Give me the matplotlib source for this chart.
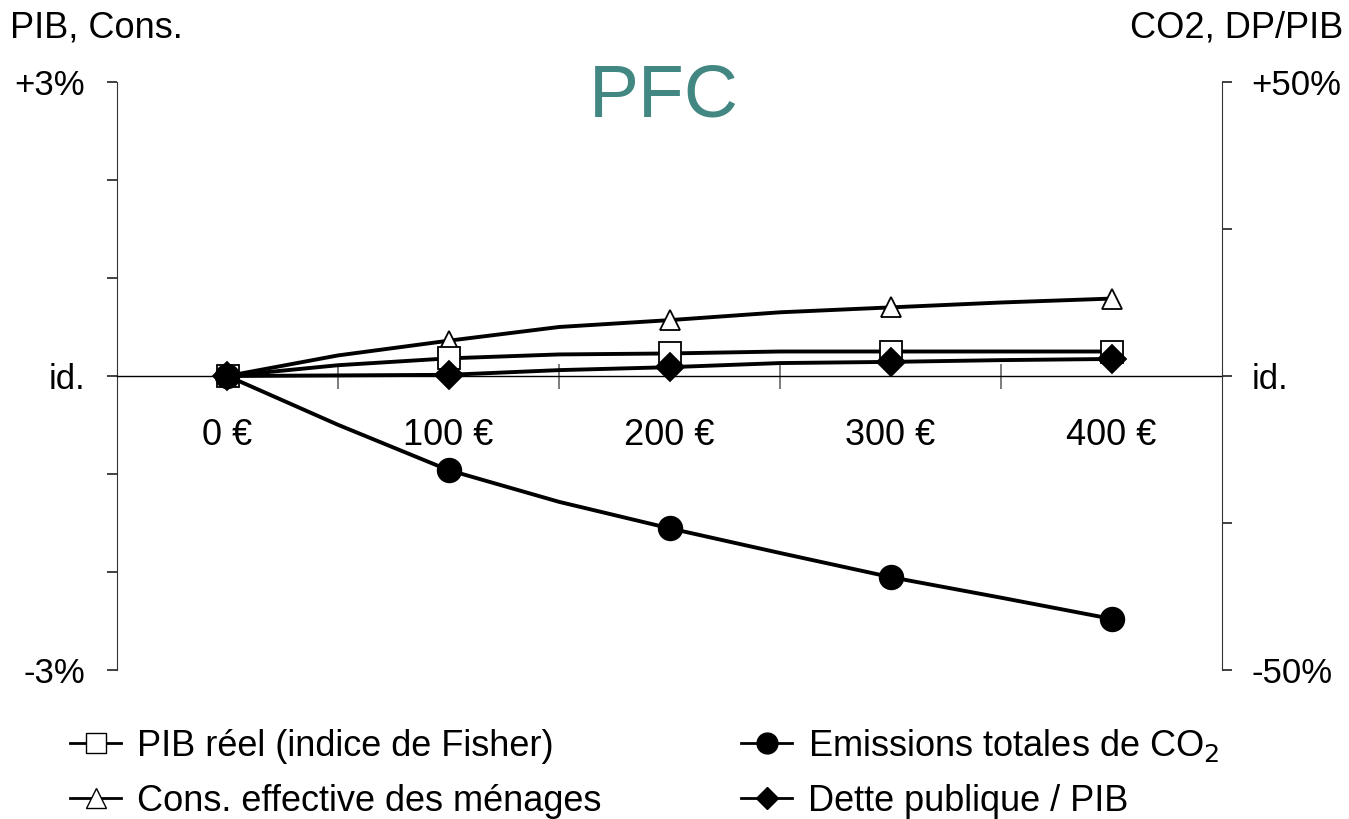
import numpy as np
import matplotlib.pyplot as plt
from matplotlib.lines import Line2D

plt.rcParams['font.family'] = ['Liberation Sans', 'DejaVu Sans']

# montant de la taxe (euros), avec points intermédiaires sans marqueur
taxe = [0, 50, 100, 150, 200, 250, 300, 350, 400]
taxe_marq = [0, 100, 200, 300, 400]

# axe de gauche (%)
pib = [0.0, 0.11, 0.18, 0.22, 0.23, 0.25, 0.25, 0.25, 0.25]
cons = [0.0, 0.21, 0.36, 0.50, 0.57, 0.65, 0.70, 0.75, 0.79]
# axe de droite (%)
co2 = [0.0, -8.3, -16.0, -21.4, -25.9, -30.1, -34.2, -37.7, -41.3]
dette = [0.0, 0.1, 0.2, 1.0, 1.5, 2.2, 2.4, 2.7, 2.9]

xlabels = ['0 €', '100 €', '200 €', '300 €', '400 €']
titre = 'PFC'

fig = plt.figure(figsize=(13.49, 8.19), dpi=100)
ax = fig.add_axes([117/1349, 1-670/819, (1222-117)/1349, 588/819])
ax2 = ax.twinx()

lw = 2.8
spine_col = '#333333'


def trace(axe, y, marker, ms, face):
    axe.plot(taxe, y, color='black', lw=lw, zorder=3)
    idx = [taxe.index(t) for t in taxe_marq]
    axe.plot(taxe_marq, [y[i] for i in idx], ls='none', marker=marker, ms=ms,
             mfc=face, mec='black', mew=1.3, zorder=4)


trace(ax, cons, '^', 15, 'white')
trace(ax, pib, 's', 16, 'white')
trace(ax2, dette, 'D', 14, 'black')
trace(ax2, co2, 'o', 17, 'black')

ax.set_xlim(-50, 450)
ax.set_ylim(-3, 3)
ax2.set_ylim(-50, 50)

for a in (ax, ax2):
    a.spines['top'].set_visible(False)
ax.spines['right'].set_visible(False)
ax2.spines['bottom'].set_visible(False)
ax2.spines['left'].set_visible(False)
ax.spines['left'].set_color(spine_col)
ax2.spines['right'].set_color(spine_col)

# axe horizontal au niveau 0
ax.spines['bottom'].set_position(('data', 0))
ax.spines['bottom'].set_color('black')
ax.spines['bottom'].set_linewidth(1.0)
ax.set_xticks(taxe_marq)
ax.set_xticklabels(xlabels, fontsize=26)
ax.set_xticks([50, 150, 250, 350], minor=True)
ax.tick_params(axis='x', which='major', length=0, pad=30)
ax.tick_params(axis='x', which='minor', direction='inout', length=18,
               color='#666666', width=1.2)

ax.set_yticks(np.arange(-3, 4, 1))
ax.set_yticklabels(['-3%', '', '', 'id.', '', '', '+3%'], fontsize=25)
ax.tick_params(axis='y', length=7, width=1.3, color=spine_col, pad=16)

ax2.set_yticks(np.arange(-50, 51, 25))
ax2.set_yticklabels(['-50%', '', 'id.', '', '+50%'], fontsize=25)
ax2.tick_params(axis='y', length=7, width=1.3, color=spine_col, pad=14)

ax.text(0.495, 0.974, titre, transform=ax.transAxes, ha='center', va='center',
        fontsize=54, color='#428782')
fig.text(10/1349, 1-28/819, 'PIB, Cons.', ha='left', va='center', fontsize=26)
fig.text(1343/1349, 1-28/819, 'CO2, DP/PIB', ha='right', va='center', fontsize=26)

handles = [
    Line2D([], [], color='black', lw=2, marker='s', ms=14, mfc='white', mec='black', mew=1),
    Line2D([], [], color='black', lw=2, marker='^', ms=14, mfc='white', mec='black', mew=1),
    Line2D([], [], color='black', lw=2, marker='o', ms=15, mfc='black', mec='black'),
    Line2D([], [], color='black', lw=2, marker='D', ms=11, mfc='black', mec='black'),
]
labels = ['PIB réel (indice de Fisher)', 'Cons. effective des ménages',
          r'Emissions totales de CO$_2$', 'Dette publique / PIB']
fig.legend(handles, labels, ncol=2, loc='center', bbox_to_anchor=(0.4782, 1-773/819),
           frameon=False, fontsize=26, handlelength=1.4, handletextpad=0.45,
           columnspacing=3.87, labelspacing=0.55)

fig.savefig('out.png', dpi=100)
